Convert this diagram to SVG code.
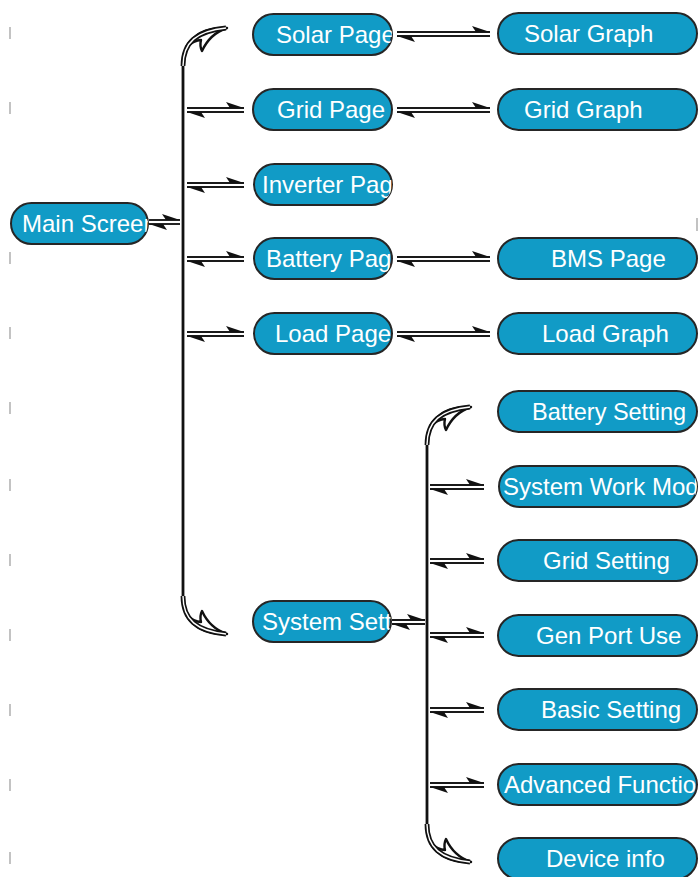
<svg xmlns="http://www.w3.org/2000/svg" xmlns:xlink="http://www.w3.org/1999/xlink" width="700" height="877" viewBox="0 0 700 877">
<style>
.n{fill:#119bc6;stroke:#262626;stroke-width:2}
.t{font-family:"Liberation Sans",Arial,sans-serif;font-size:24px;fill:#ffffff}
.h{fill:none;stroke:#1a1a1a;stroke-width:1.9}
.tick{stroke:#9a9a9a;stroke-width:1.2}
.br{fill:none;stroke:#111;stroke-width:2.8}
.cO{fill:none;stroke:#111;stroke-width:4.8}
.cI{fill:none;stroke:#fff;stroke-width:1.4}
.ah{fill:#fff;stroke:#111;stroke-width:2.4;stroke-linejoin:round}
</style>
<defs>
<marker id="hr" markerUnits="userSpaceOnUse" markerWidth="18" markerHeight="8" viewBox="0 0 18 8" refX="18" refY="7" orient="auto" overflow="visible"><path d="M18,7 L0,1 L4,7 Z" fill="#111"/></marker>
<marker id="hl" markerUnits="userSpaceOnUse" markerWidth="18" markerHeight="8" viewBox="0 0 18 8" refX="0" refY="1" orient="auto" overflow="visible"><path d="M0,1 L18,7 L14,1 Z" fill="#111"/></marker>
<g id="curl">
<path class="ah" d="M227,28 C210,27 195,32 186,47 C192,42 197,40 201,40 C200,44 200,47 202,51 C207,40 215,32 227,28 Z"/>
<path class="cO" d="M183,66 C183,42 197,31 226,28"/>
<path class="cI" d="M183,66 C183,42 197,31 226,28"/>
</g>
<clipPath id="k0"><rect x="11" y="203" width="137" height="41" rx="20.5"/></clipPath>
<clipPath id="k1"><rect x="253" y="14" width="139" height="41" rx="20.5"/></clipPath>
<clipPath id="k3"><rect x="254" y="164" width="138" height="41" rx="20.5"/></clipPath>
<clipPath id="k4"><rect x="254" y="238" width="138" height="41" rx="20.5"/></clipPath>
<clipPath id="k5"><rect x="254" y="313" width="138" height="41" rx="20.5"/></clipPath>
<clipPath id="k6"><rect x="253" y="601" width="138" height="41" rx="20.5"/></clipPath>
<clipPath id="k12"><rect x="499" y="466" width="198" height="41" rx="20.5"/></clipPath>
<clipPath id="k16"><rect x="498" y="764" width="199" height="41" rx="20.5"/></clipPath>
</defs>

<g id="ticks">
<line class="tick" x1="10" y1="27" x2="10" y2="39"/>
<line class="tick" x1="10" y1="102" x2="10" y2="114"/>
<line class="tick" x1="10" y1="252" x2="10" y2="264"/>
<line class="tick" x1="10" y1="327" x2="10" y2="339"/>
<line class="tick" x1="10" y1="402" x2="10" y2="414"/>
<line class="tick" x1="10" y1="479" x2="10" y2="491"/>
<line class="tick" x1="10" y1="554" x2="10" y2="566"/>
<line class="tick" x1="10" y1="629" x2="10" y2="641"/>
<line class="tick" x1="10" y1="704" x2="10" y2="716"/>
<line class="tick" x1="10" y1="779" x2="10" y2="791"/>
<line class="tick" x1="10" y1="852" x2="10" y2="864"/>
<line class="tick" x1="697" y1="218" x2="697" y2="231"/>
</g>

<g id="connectors">
<line class="br" x1="183" y1="64" x2="183" y2="600"/>
<use xlink:href="#curl"/>
<use xlink:href="#curl" transform="translate(0,662) scale(1,-1)"/>
<line class="br" x1="427" y1="443" x2="427" y2="828"/>
<use xlink:href="#curl" transform="translate(244,379)"/>
<use xlink:href="#curl" transform="translate(244,890) scale(1,-1)"/>

<path class="h" d="M149,220 H180" marker-end="url(#hr)"/><path class="h" d="M149,224 H180" marker-start="url(#hl)"/>
<path class="h" d="M392,620 H425" marker-end="url(#hr)"/><path class="h" d="M392,624 H425" marker-start="url(#hl)"/>

<path class="h" d="M397,32 H490" marker-end="url(#hr)"/><path class="h" d="M397,36 H490" marker-start="url(#hl)"/>
<path class="h" d="M397,108 H490" marker-end="url(#hr)"/><path class="h" d="M397,112 H490" marker-start="url(#hl)"/>
<path class="h" d="M397,257 H490" marker-end="url(#hr)"/><path class="h" d="M397,261 H490" marker-start="url(#hl)"/>
<path class="h" d="M397,332 H490" marker-end="url(#hr)"/><path class="h" d="M397,336 H490" marker-start="url(#hl)"/>

<path class="h" d="M187,108 H244" marker-end="url(#hr)"/><path class="h" d="M187,112 H244" marker-start="url(#hl)"/>
<path class="h" d="M187,183 H244" marker-end="url(#hr)"/><path class="h" d="M187,187 H244" marker-start="url(#hl)"/>
<path class="h" d="M187,257 H244" marker-end="url(#hr)"/><path class="h" d="M187,261 H244" marker-start="url(#hl)"/>
<path class="h" d="M187,332 H244" marker-end="url(#hr)"/><path class="h" d="M187,336 H244" marker-start="url(#hl)"/>

<path class="h" d="M430,485 H484" marker-end="url(#hr)"/><path class="h" d="M430,489 H484" marker-start="url(#hl)"/>
<path class="h" d="M430,559 H484" marker-end="url(#hr)"/><path class="h" d="M430,563 H484" marker-start="url(#hl)"/>
<path class="h" d="M430,633 H484" marker-end="url(#hr)"/><path class="h" d="M430,637 H484" marker-start="url(#hl)"/>
<path class="h" d="M430,708 H484" marker-end="url(#hr)"/><path class="h" d="M430,712 H484" marker-start="url(#hl)"/>
<path class="h" d="M430,783 H484" marker-end="url(#hr)"/><path class="h" d="M430,787 H484" marker-start="url(#hl)"/>
</g>

<g id="mainScreen"><rect class="n" x="11" y="203" width="137" height="41" rx="20.5"/><text class="t" x="22" y="232" clip-path="url(#k0)">Main Screen</text></g>
<g id="solarPage"><rect class="n" x="253" y="14" width="139" height="41" rx="20.5"/><text class="t" x="276" y="43" clip-path="url(#k1)">Solar Page</text></g>
<g id="gridPage"><rect class="n" x="253" y="89" width="139" height="41" rx="20.5"/><text class="t" x="277" y="118">Grid Page</text></g>
<g id="inverterPage"><rect class="n" x="254" y="164" width="138" height="41" rx="20.5"/><text class="t" x="262" y="193" clip-path="url(#k3)">Inverter Page</text></g>
<g id="batteryPage"><rect class="n" x="254" y="238" width="138" height="41" rx="20.5"/><text class="t" x="266" y="267" clip-path="url(#k4)">Battery Page</text></g>
<g id="loadPage"><rect class="n" x="254" y="313" width="138" height="41" rx="20.5"/><text class="t" x="275" y="342" clip-path="url(#k5)">Load Page</text></g>
<g id="systemSetting"><rect class="n" x="253" y="601" width="138" height="41" rx="20.5"/><text class="t" x="262" y="630" clip-path="url(#k6)">System Setting</text></g>

<g id="solarGraph"><rect class="n" x="498" y="13" width="199" height="41" rx="20.5"/><text class="t" x="524" y="42">Solar Graph</text></g>
<g id="gridGraph"><rect class="n" x="498" y="89" width="199" height="41" rx="20.5"/><text class="t" x="524" y="118">Grid Graph</text></g>
<g id="bmsPage"><rect class="n" x="498" y="238" width="199" height="41" rx="20.5"/><text class="t" x="551" y="267">BMS Page</text></g>
<g id="loadGraph"><rect class="n" x="498" y="313" width="199" height="41" rx="20.5"/><text class="t" x="542" y="342">Load Graph</text></g>
<g id="batterySetting"><rect class="n" x="498" y="391" width="199" height="41" rx="20.5"/><text class="t" x="532" y="420" textLength="154" lengthAdjust="spacingAndGlyphs">Battery Setting</text></g>
<g id="systemWorkMode"><rect class="n" x="499" y="466" width="198" height="41" rx="20.5"/><text class="t" x="503" y="495" clip-path="url(#k12)">System Work Mode</text></g>
<g id="gridSetting"><rect class="n" x="498" y="540" width="199" height="41" rx="20.5"/><text class="t" x="543" y="569">Grid Setting</text></g>
<g id="genPortUse"><rect class="n" x="498" y="615" width="199" height="41" rx="20.5"/><text class="t" x="536" y="644">Gen Port Use</text></g>
<g id="basicSetting"><rect class="n" x="498" y="689" width="199" height="41" rx="20.5"/><text class="t" x="541" y="718">Basic Setting</text></g>
<g id="advancedFunction"><rect class="n" x="498" y="764" width="199" height="41" rx="20.5"/><text class="t" x="504" y="793" clip-path="url(#k16)">Advanced Function</text></g>
<g id="deviceInfo"><rect class="n" x="498" y="838" width="199" height="41" rx="20.5"/><text class="t" x="546" y="867">Device info</text></g>
</svg>
